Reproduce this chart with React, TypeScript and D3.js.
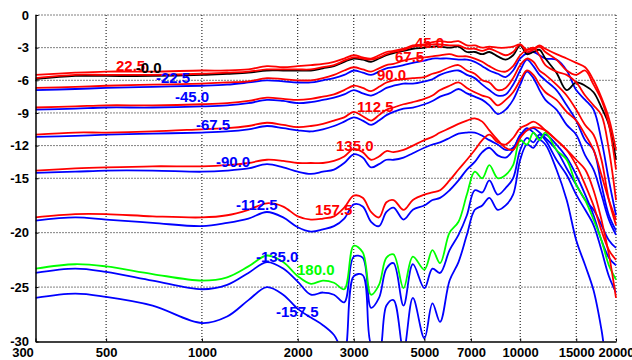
import React, { useEffect, useRef } from 'react';
import * as d3 from 'd3';

// frequency grid (Hz) shared by every curve
const freqs = [300, 400, 500, 700, 1000, 1200, 1400, 1600, 1800, 2000, 2200, 2400, 2600, 2800, 3000, 3200, 3400, 3600, 3800, 4000, 4300, 4600, 5000, 5300, 5600, 6000, 6400, 6800, 7200, 7600, 8000, 8500, 9000, 9500, 10000, 10500, 11000, 11500, 12000, 13000, 14000, 15000, 16000, 17000, 18000, 19000, 20000];

// level in dB per angle
const deg0 = [-5.9, -5.6, -5.6, -5.6, -5.5, -5.4, -5.3, -5.1, -5.1, -5.1, -5.1, -4.9, -4.7, -4.3, -4.0, -4.1, -4.3, -4.0, -3.7, -3.5, -3.3, -3.1, -3.0, -2.9, -2.9, -3.0, -2.9, -3.4, -3.4, -3.6, -3.4, -3.8, -4.1, -3.7, -2.8, -3.6, -3.4, -3.2, -4.0, -5.3, -6.9, -6.2, -6.5, -7.1, -8.5, -10.1, -13.3];
const pos22 = [-5.5, -5.3, -5.2, -5.2, -5.1, -5.1, -5.0, -4.7, -4.8, -4.7, -4.6, -4.5, -4.3, -4.0, -3.7, -3.9, -4.0, -3.7, -3.4, -3.3, -3.1, -2.8, -2.7, -2.5, -2.4, -2.5, -2.4, -2.8, -2.8, -3.0, -2.9, -3.0, -3.0, -2.9, -2.7, -3.2, -3.1, -2.8, -3.1, -3.6, -4.0, -4.4, -4.8, -6.0, -7.6, -9.5, -12.4];
const pos45 = [-5.8, -5.5, -5.5, -5.5, -5.4, -5.3, -5.2, -5.0, -5.0, -5.0, -5.0, -4.8, -4.6, -4.2, -3.9, -4.0, -4.1, -3.9, -3.6, -3.4, -3.2, -2.9, -2.8, -2.7, -2.7, -2.8, -2.8, -3.1, -3.1, -3.3, -3.1, -3.4, -3.7, -3.4, -2.7, -3.4, -3.2, -2.9, -3.4, -4.1, -5.1, -5.5, -5.1, -6.4, -7.8, -10.1, -14.2];
const pos67 = [-6.7, -6.6, -6.5, -6.4, -6.3, -6.2, -6.1, -5.8, -5.9, -6.0, -6.0, -5.8, -5.5, -5.1, -4.8, -5.0, -5.2, -4.9, -4.6, -4.5, -4.2, -4.0, -3.9, -3.8, -3.7, -3.6, -3.8, -3.8, -4.0, -4.3, -4.7, -5.1, -5.2, -4.7, -3.7, -3.2, -3.0, -3.7, -4.6, -5.2, -5.5, -6.2, -7.4, -8.3, -9.2, -12.4, -17.0];
const pos90 = [-8.5, -8.4, -8.3, -8.3, -8.2, -8.1, -7.9, -7.6, -7.7, -7.8, -7.7, -7.5, -7.3, -6.9, -6.5, -6.7, -7.0, -6.6, -6.2, -6.0, -5.9, -5.8, -5.7, -5.4, -5.2, -4.8, -4.6, -5.1, -5.4, -6.0, -6.2, -6.9, -6.7, -5.8, -4.6, -4.0, -4.3, -5.1, -5.5, -6.4, -7.4, -8.7, -10.1, -11.0, -13.3, -17.0, -19.3];
const pos112 = [-11.0, -10.8, -10.8, -10.7, -10.5, -10.4, -10.2, -9.9, -10.1, -10.3, -10.2, -10.0, -9.7, -9.4, -8.9, -9.3, -9.7, -9.2, -8.7, -8.5, -8.2, -8.0, -7.7, -7.4, -6.9, -6.5, -6.2, -6.7, -7.1, -7.4, -7.6, -8.3, -7.8, -7.1, -6.0, -5.1, -5.5, -6.4, -7.1, -7.8, -8.9, -9.7, -11.0, -12.4, -14.7, -17.0, -18.8];
const pos135 = [-14.3, -14.1, -14.0, -13.9, -13.9, -13.8, -13.6, -13.3, -13.4, -13.6, -13.6, -13.6, -13.4, -13.0, -12.3, -12.6, -13.3, -13.0, -12.5, -12.6, -12.4, -12.0, -11.5, -11.2, -10.8, -10.4, -10.0, -9.7, -9.5, -9.8, -10.6, -11.5, -12.2, -12.4, -11.3, -10.6, -10.3, -10.4, -10.6, -11.5, -12.4, -13.8, -15.6, -17.5, -19.8, -21.6, -22.5];
const pos157 = [-18.6, -18.3, -18.3, -18.5, -18.6, -18.4, -17.9, -17.3, -17.6, -18.5, -18.8, -18.7, -18.5, -17.7, -16.6, -16.8, -18.1, -18.6, -17.2, -17.0, -17.9, -17.0, -16.5, -16.3, -16.1, -15.2, -14.2, -13.3, -12.4, -11.5, -11.0, -11.7, -11.9, -11.3, -10.4, -10.1, -9.8, -10.1, -10.6, -11.5, -12.4, -13.3, -14.2, -16.1, -18.8, -22.0, -26.0];
const deg180 = [-23.3, -22.9, -23.1, -23.8, -24.4, -24.1, -23.1, -22.1, -22.7, -24.0, -24.7, -24.4, -24.6, -25.2, -21.2, -21.8, -25.7, -24.8, -22.3, -22.0, -25.1, -22.2, -23.4, -21.6, -22.8, -20.0, -19.0, -16.5, -14.4, -15.0, -13.8, -15.0, -14.7, -13.8, -11.5, -11.9, -10.8, -11.5, -10.8, -12.4, -13.3, -15.6, -17.0, -18.8, -20.7, -23.0, -24.3];
const neg22 = [-6.9, -6.8, -6.7, -6.6, -6.5, -6.4, -6.2, -6.0, -6.1, -6.2, -6.2, -6.0, -5.8, -5.5, -5.1, -5.3, -5.5, -5.2, -4.9, -4.8, -4.6, -4.4, -4.2, -4.0, -4.0, -4.0, -4.1, -4.1, -4.3, -4.7, -5.1, -5.4, -5.7, -5.1, -4.0, -3.5, -3.4, -3.7, -4.0, -4.1, -5.1, -6.9, -7.8, -8.7, -11.5, -15.2, -18.4];
const neg45 = [-8.7, -8.6, -8.5, -8.5, -8.4, -8.3, -8.1, -7.8, -7.9, -8.1, -8.0, -7.8, -7.6, -7.3, -6.9, -7.2, -7.4, -7.1, -6.7, -6.5, -6.3, -6.3, -6.1, -5.9, -5.5, -5.2, -5.1, -5.5, -5.8, -6.4, -6.9, -7.4, -7.3, -6.4, -5.1, -4.1, -4.7, -5.5, -6.0, -6.9, -8.3, -9.7, -11.5, -12.4, -15.6, -18.4, -19.8];
const neg67 = [-11.2, -11.1, -11.0, -10.9, -10.8, -10.7, -10.5, -10.2, -10.4, -10.6, -10.7, -10.5, -10.2, -9.8, -9.4, -9.7, -10.1, -9.7, -9.2, -8.9, -8.6, -8.5, -8.2, -7.9, -7.5, -7.2, -6.8, -7.2, -7.5, -7.8, -8.3, -9.1, -8.7, -7.8, -6.4, -5.2, -5.8, -6.9, -7.8, -8.7, -10.1, -11.0, -12.9, -14.2, -16.5, -18.8, -20.2];
const neg90 = [-14.5, -14.4, -14.3, -14.3, -14.4, -14.3, -14.1, -13.7, -14.0, -14.4, -14.6, -14.4, -14.2, -13.6, -12.8, -13.1, -14.0, -13.7, -13.3, -13.3, -13.1, -12.7, -12.2, -11.9, -11.7, -11.3, -10.9, -10.8, -10.8, -11.1, -11.5, -11.9, -12.4, -12.2, -11.1, -10.4, -10.8, -11.3, -11.0, -11.9, -13.1, -14.7, -16.5, -18.4, -20.7, -22.3, -23.0];
const neg112 = [-18.9, -18.6, -18.8, -19.1, -19.4, -19.1, -18.7, -18.1, -18.6, -19.5, -19.9, -19.7, -19.4, -18.7, -17.4, -17.6, -19.0, -19.4, -18.1, -17.7, -18.8, -17.9, -17.5, -17.0, -16.8, -16.1, -15.2, -14.2, -13.5, -12.6, -12.2, -12.9, -13.1, -12.4, -11.0, -10.6, -10.4, -10.8, -11.3, -12.4, -14.1, -15.6, -17.0, -17.9, -19.3, -20.7, -21.4];
const neg135 = [-23.7, -23.3, -23.6, -24.4, -25.2, -24.8, -23.7, -22.7, -23.3, -24.5, -25.7, -25.5, -25.7, -26.4, -22.2, -22.3, -26.9, -26.0, -23.3, -22.8, -26.7, -22.9, -25.1, -23.3, -23.7, -21.6, -20.2, -18.4, -16.1, -16.3, -15.2, -16.5, -15.9, -15.0, -12.4, -11.3, -11.7, -11.0, -11.5, -13.3, -14.7, -16.5, -17.9, -19.3, -21.6, -24.0, -25.5];
const neg157 = [-26.0, -25.6, -25.9, -26.7, -28.3, -27.7, -26.2, -25.0, -25.7, -27.0, -27.8, -28.5, -29.4, -31.0, -24.0, -23.9, -30.3, -31.0, -26.7, -26.2, -30.8, -26.0, -29.7, -26.5, -28.2, -24.4, -22.7, -20.2, -17.9, -17.5, -16.8, -17.9, -17.5, -16.5, -13.3, -11.9, -12.2, -11.5, -11.9, -14.2, -17.0, -20.7, -23.0, -25.3, -28.9, -33.5, -35.4];

const xTicks = [300, 500, 1000, 2000, 3000, 5000, 7000, 10000, 15000, 20000];
const yTicks = [0, -3, -6, -9, -12, -15, -20, -25, -30];

// curve labels: text, anchor frequency, anchor level
const labelTexts = ['22.5', '-0.0', '-22.5', '-45.0', '-67.5', '-90.0', '-112.5', '-135.0', '-157.5', '180.0', '157.5', '135.0', '112.5', '90.0', '67.5', '45.0'];
const labelFreqs = [537, 620, 717, 823, 958, 1107, 1279, 1478, 1709, 1989, 2265, 2638, 3070, 3548, 4042, 4670];
const labelLevels = [-5.15, -5.33, -6.25, -8.0, -10.57, -13.97, -17.92, -22.7, -27.76, -23.9, -18.38, -12.5, -8.92, -5.97, -4.32, -3.03];

const RED = '#ff0000';
const BLUE = '#0000ff';
const GREEN = '#00ff00';
const BLACK = '#000000';

const labelColors = [RED, BLACK, BLUE, BLUE, BLUE, BLUE, BLUE, BLUE, BLUE, GREEN, RED, RED, RED, RED, RED, RED];

// drawing order: blues, black, green, reds
const series = [
  { values: neg157, color: BLUE },
  { values: neg135, color: BLUE },
  { values: neg112, color: BLUE },
  { values: neg90, color: BLUE },
  { values: neg67, color: BLUE },
  { values: neg45, color: BLUE },
  { values: neg22, color: BLUE },
  { values: deg0, color: BLACK },
  { values: deg180, color: GREEN },
  { values: pos157, color: RED },
  { values: pos135, color: RED },
  { values: pos112, color: RED },
  { values: pos90, color: RED },
  { values: pos67, color: RED },
  { values: pos45, color: RED },
  { values: pos22, color: RED },
];

const width = 632;
const height = 360;

const App: React.FC = () => {
  const svgRef = useRef<SVGSVGElement>(null);

  useEffect(() => {
    if (!svgRef.current) return;
    const svg = d3.select(svgRef.current);
    svg.selectAll('*').remove();

    const margin = { top: 15, right: 16, bottom: 18.5, left: 35.5 };
    const x0 = margin.left;
    const x1 = width - margin.right;
    const y0 = margin.top;
    const y1 = height - margin.bottom;

    const xScale = d3.scaleLog().domain([300, 20000]).range([x0, x1]);
    const yScale = d3.scaleLinear().domain([-30, 0]).range([y1, y0]);

    const font = "'Liberation Sans', Arial, Helvetica, sans-serif";

    // Grid
    const grid = svg.append('g');
    xTicks.slice(1).forEach(t => {
      grid.append('line')
        .attr('x1', xScale(t)).attr('x2', xScale(t))
        .attr('y1', y0).attr('y2', y1)
        .attr('stroke', '#000')
        .attr('stroke-width', 1)
        .attr('stroke-dasharray', '1,2');
    });
    yTicks.slice(0, -1).forEach(t => {
      grid.append('line')
        .attr('x1', x0).attr('x2', x1)
        .attr('y1', yScale(t)).attr('y2', yScale(t))
        .attr('stroke', '#000')
        .attr('stroke-width', 1)
        .attr('stroke-dasharray', '1,2');
    });

    // Curves, clipped to the plot box
    svg.append('defs').append('clipPath').attr('id', 'plot-clip')
      .append('rect')
      .attr('x', x0).attr('y', y0 - 2)
      .attr('width', x1 - x0 + 1).attr('height', y1 - y0 + 2);

    const line = d3.line<number>()
      .x((_, i) => xScale(freqs[i]))
      .y(d => yScale(d))
      .curve(d3.curveCatmullRom.alpha(0.5));

    const curves = svg.append('g').attr('clip-path', 'url(#plot-clip)');
    series.forEach(s => {
      curves.append('path')
        .datum(s.values)
        .attr('fill', 'none')
        .attr('stroke', s.color)
        .attr('stroke-width', 1.8)
        .attr('stroke-linejoin', 'round')
        .attr('d', line);
    });

    // Axes
    const xAxis = svg.append('g')
      .attr('transform', `translate(0,${y1})`)
      .call(d3.axisBottom(xScale).tickValues(xTicks).tickSizeInner(-3).tickSizeOuter(0).tickPadding(6).tickFormat(d => String(d)));
    xAxis.select('.domain').attr('stroke-width', 1.5);
    xAxis.selectAll('text')
      .attr('font-family', font).attr('font-weight', 'bold').attr('font-size', 13).attr('fill', '#000');
    xAxis.selectAll('.tick').filter((d: any) => d === 300).select('text').attr('dx', -13);

    const yAxis = svg.append('g')
      .attr('transform', `translate(${x0},0)`)
      .call(d3.axisLeft(yScale).tickValues(yTicks).tickSizeInner(-3).tickSizeOuter(0).tickPadding(6.5).tickFormat(d => String(d)));
    yAxis.select('.domain').attr('stroke-width', 1.5);
    yAxis.selectAll('text')
      .attr('font-family', font).attr('font-weight', 'bold').attr('font-size', 13).attr('fill', '#000');

    // Curve labels
    labelTexts.forEach((t, i) => {
      svg.append('text')
        .attr('x', xScale(labelFreqs[i]))
        .attr('y', yScale(labelLevels[i]))
        .attr('fill', labelColors[i])
        .attr('font-family', font)
        .attr('font-weight', 'bold')
        .attr('font-size', 15)
        .text(t);
    });
  }, []);

  return (
    <div style={{ position: 'absolute', left: 0, top: 0 }}>
      <svg ref={svgRef} width={width} height={height} style={{ display: 'block', background: '#fff' }} />
    </div>
  );
};

export default App;
